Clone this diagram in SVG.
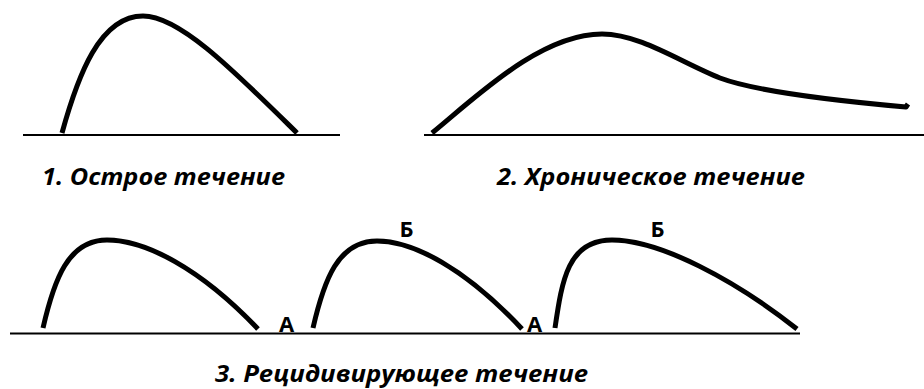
<svg xmlns="http://www.w3.org/2000/svg" width="924" height="389" viewBox="0 0 924 389">
<style>
.axis{stroke:#000;stroke-width:2.2;fill:none}
.curve{stroke:#000;stroke-width:5;fill:none;stroke-linecap:butt;stroke-linejoin:round}
.cap{font-family:"Open Sans","Liberation Sans",sans-serif;font-weight:bold;font-style:italic;font-size:23.5px;fill:#000}
.lbl{font-family:"Open Sans","Liberation Sans",sans-serif;font-weight:bold;font-size:22px;fill:#000;text-anchor:middle}
</style>
<rect width="924" height="389" fill="#fff"/>
<g id="connectors">
<line class="axis" x1="23" y1="135" x2="340" y2="135"/>
<line class="axis" x1="424" y1="135" x2="924" y2="135"/>
<line class="axis" x1="10" y1="333.5" x2="800" y2="333.5"/>
</g>
<g id="acute">
<path class="curve" d="M62,133 C78,75 100,16 143,16 C180,16 235,72 297,133"/>
<text class="cap" x="42" y="185" textLength="243" lengthAdjust="spacingAndGlyphs">1. Острое течение</text>
</g>
<g id="chronic">
<path class="curve" d="M432,133 C475,98 540,34 602,34 C640,34 680,62 720,78 C760,93 850,102 906,107 L908,104"/>
<text class="cap" x="497" y="185" textLength="308" lengthAdjust="spacingAndGlyphs">2. Хроническое течение</text>
</g>
<g id="relapsing">
<path class="curve" d="M43,328 C54,280 68,240 107,240 C145,240 200,268 258,329"/>
<path class="curve" d="M313,328 C324,280 338,241 377,241 C413,241 465,268 522,329"/>
<path class="curve" d="M555,328 C562,280 568,240 612,240 C660,240 735,280 797,329"/>
<text class="lbl" x="286.5" y="332">А</text>
<text class="lbl" x="534.5" y="332">А</text>
<text class="lbl" x="406.5" y="237">Б</text>
<text class="lbl" x="657.5" y="237">Б</text>
<text class="cap" x="215" y="382" textLength="373" lengthAdjust="spacingAndGlyphs">3. Рецидивирующее течение</text>
</g>
</svg>
